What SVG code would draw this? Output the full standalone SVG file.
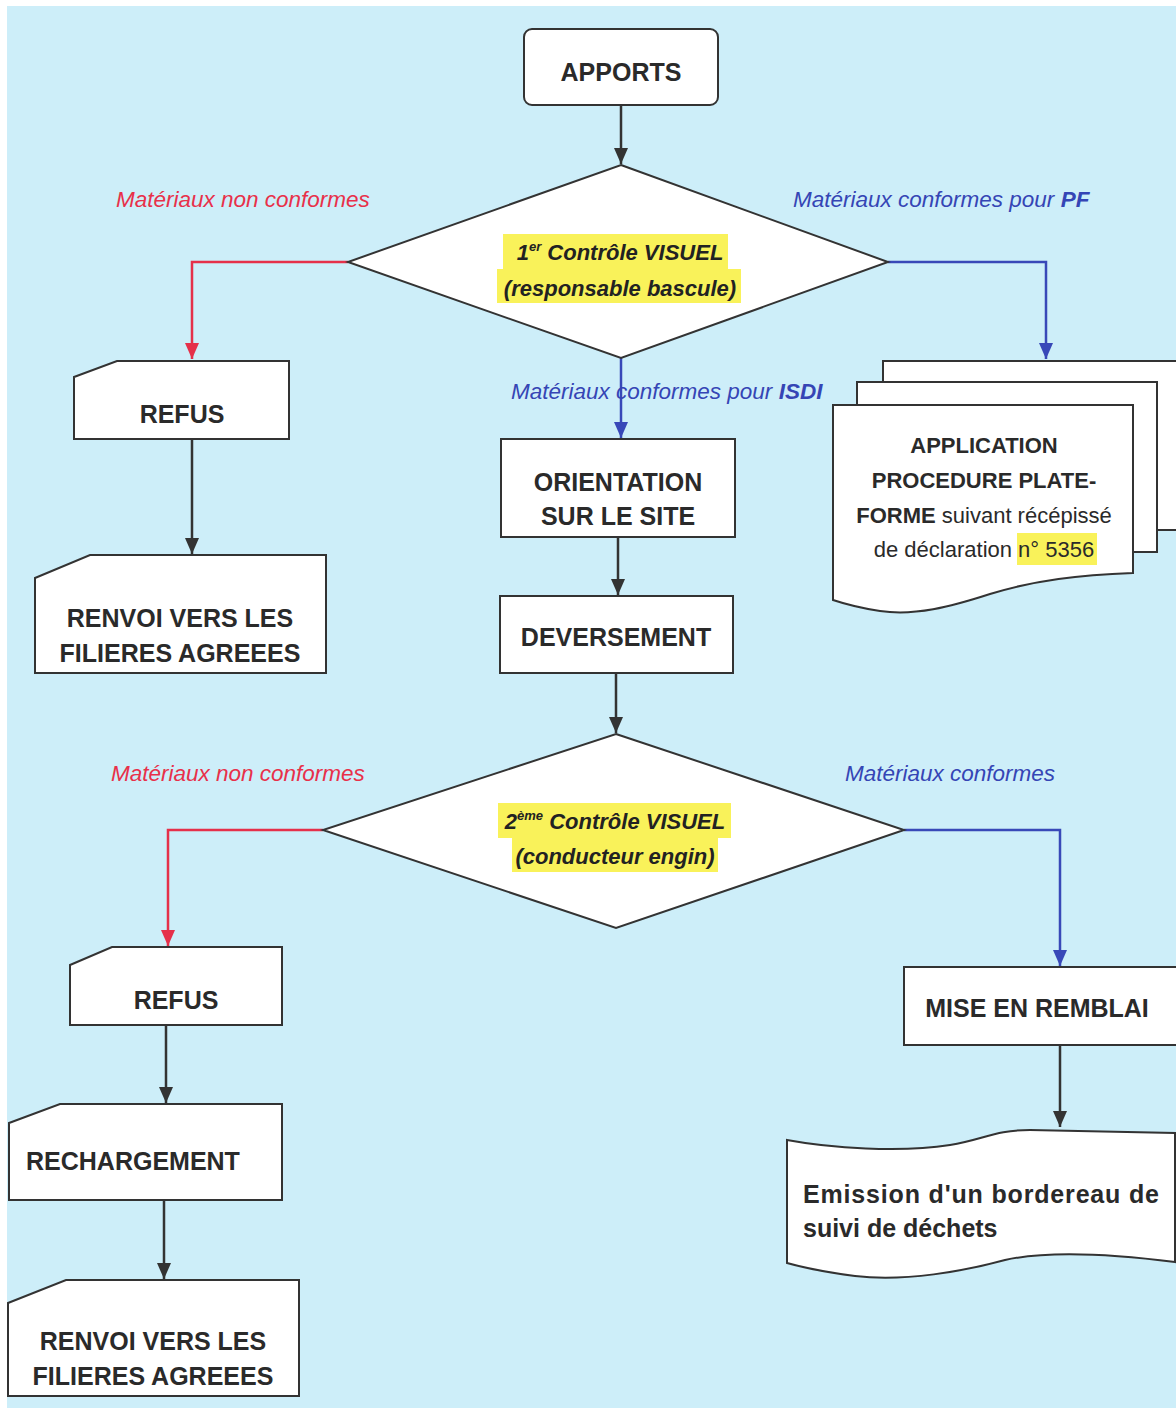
<svg xmlns="http://www.w3.org/2000/svg" width="1176" height="1408" viewBox="0 0 1176 1408">
<style>
.box{fill:#ffffff;stroke:#333333;stroke-width:2}
.t{font-family:"Liberation Sans",Arial,sans-serif;font-weight:bold;font-size:25px;fill:#2a2a2a;text-anchor:middle}
.s{text-anchor:start}
.d{font-family:"Liberation Sans",Arial,sans-serif;font-weight:bold;font-style:italic;font-size:22px;fill:#222;text-anchor:middle}
.p{font-family:"Liberation Sans",Arial,sans-serif;font-size:22px;fill:#2a2a2a;text-anchor:middle}
.lr{font-family:"Liberation Sans",Arial,sans-serif;font-style:italic;font-size:22.5px;fill:#e8304a}
.lb{font-family:"Liberation Sans",Arial,sans-serif;font-style:italic;font-size:22.5px;fill:#3545b5}
.ck{fill:none;stroke:#333333;stroke-width:2.5}
.cr{fill:none;stroke:#e5304a;stroke-width:2.5}
.cb{fill:none;stroke:#3848b8;stroke-width:2.5}
.hl{fill:#f9f25a}
</style>
<defs>
<marker id="ak" viewBox="0 0 16 14" refX="16" refY="7" markerWidth="16" markerHeight="14" orient="auto" markerUnits="userSpaceOnUse"><path d="M0,0 L16,7 L0,14 Z" fill="#333333"/></marker>
<marker id="ar" viewBox="0 0 16 14" refX="16" refY="7" markerWidth="16" markerHeight="14" orient="auto" markerUnits="userSpaceOnUse"><path d="M0,0 L16,7 L0,14 Z" fill="#e5304a"/></marker>
<marker id="ab" viewBox="0 0 16 14" refX="16" refY="7" markerWidth="16" markerHeight="14" orient="auto" markerUnits="userSpaceOnUse"><path d="M0,0 L16,7 L0,14 Z" fill="#3848b8"/></marker>
</defs>
<rect x="0" y="0" width="1176" height="1408" fill="#ffffff"/>
<rect x="7" y="6" width="1169" height="1402" fill="#cdeef9"/>

<g id="connectors">
<path class="ck" d="M621,105 L621,164" marker-end="url(#ak)"/>
<path class="cr" d="M348,262 L192,262 L192,359" marker-end="url(#ar)"/>
<path class="cb" d="M888,262 L1046,262 L1046,359" marker-end="url(#ab)"/>
<path class="cb" d="M621,358 L621,438" marker-end="url(#ab)"/>
<path class="ck" d="M192,439 L192,554" marker-end="url(#ak)"/>
<path class="ck" d="M618,537 L618,595" marker-end="url(#ak)"/>
<path class="ck" d="M616,673 L616,733" marker-end="url(#ak)"/>
<path class="cr" d="M323,830 L168,830 L168,946" marker-end="url(#ar)"/>
<path class="cb" d="M904,830 L1060,830 L1060,966" marker-end="url(#ab)"/>
<path class="ck" d="M166,1025 L166,1103" marker-end="url(#ak)"/>
<path class="ck" d="M164,1200 L164,1279" marker-end="url(#ak)"/>
<path class="ck" d="M1060,1045 L1060,1127" marker-end="url(#ak)"/>
<text class="lr" x="116" y="207">Matériaux non conformes</text>
<text class="lb" x="793" y="207">Matériaux conformes pour <tspan font-weight="bold">PF</tspan></text>
<text class="lb" x="511" y="399">Matériaux conformes pour <tspan font-weight="bold">ISDI</tspan></text>
<text class="lr" x="111" y="781">Matériaux non conformes</text>
<text class="lb" x="845" y="781">Matériaux conformes</text>
</g>

<g id="apports">
<rect class="box" x="524" y="29" width="194" height="76" rx="8"/>
<text class="t" x="621" y="81">APPORTS</text>
</g>

<g id="controle1">
<path class="box" d="M621,165 L888,262 L621,358 L348,262 Z"/>
<rect class="hl" x="503" y="234" width="225" height="35"/>
<rect class="hl" x="497" y="269" width="244" height="34"/>
<text class="d" x="620" y="260">1<tspan font-size="13" dy="-9">er</tspan><tspan dy="9"> Contrôle VISUEL</tspan></text>
<text class="d" x="620" y="296">(responsable bascule)</text>
</g>

<g id="refus1">
<path class="box" d="M74,377 L117,361 L289,361 L289,439 L74,439 Z"/>
<text class="t" x="182" y="423">REFUS</text>
</g>

<g id="renvoi1">
<path class="box" d="M35,578 L90,555 L326,555 L326,673 L35,673 Z"/>
<text class="t" x="180" y="627">RENVOI VERS LES</text>
<text class="t" x="180" y="662">FILIERES AGREEES</text>
</g>

<g id="application">
<rect class="box" x="883" y="361" width="320" height="169"/>
<rect class="box" x="857" y="382" width="300" height="170"/>
<path class="box" d="M833,405 L1133,405 L1133,573 C1080,575 1035,580 990,594 C950,607 915,616 880,611 C860,608 845,604 833,600 Z"/>
<rect class="hl" x="1017" y="533" width="80" height="32"/>
<text class="p" x="984" y="453" font-weight="bold">APPLICATION</text>
<text class="p" x="984" y="488" font-weight="bold">PROCEDURE PLATE-</text>
<text class="p" x="984" y="523"><tspan font-weight="bold">FORME</tspan> suivant récépissé</text>
<text class="p" x="984" y="557">de déclaration n° 5356</text>
</g>

<g id="orientation">
<rect class="box" x="501" y="439" width="234" height="98"/>
<text class="t" x="618" y="491">ORIENTATION</text>
<text class="t" x="618" y="525">SUR LE SITE</text>
</g>

<g id="deversement">
<rect class="box" x="500" y="596" width="233" height="77"/>
<text class="t" x="616" y="646">DEVERSEMENT</text>
</g>

<g id="controle2">
<path class="box" d="M616,734 L904,830 L616,928 L323,830 Z"/>
<rect class="hl" x="498" y="803" width="233" height="35"/>
<rect class="hl" x="512" y="838" width="206" height="34"/>
<text class="d" x="615" y="829">2<tspan font-size="13" dy="-9">ème</tspan><tspan dy="9"> Contrôle VISUEL</tspan></text>
<text class="d" x="615" y="864">(conducteur engin)</text>
</g>

<g id="refus2">
<path class="box" d="M70,965 L112,947 L282,947 L282,1025 L70,1025 Z"/>
<text class="t" x="176" y="1009">REFUS</text>
</g>

<g id="rechargement">
<path class="box" d="M9,1123 L60,1104 L282,1104 L282,1200 L9,1200 Z"/>
<text class="t s" x="26" y="1170">RECHARGEMENT</text>
</g>

<g id="renvoi2">
<path class="box" d="M8,1303 L66,1280 L299,1280 L299,1396 L8,1396 Z"/>
<text class="t" x="153" y="1350">RENVOI VERS LES</text>
<text class="t" x="153" y="1385">FILIERES AGREEES</text>
</g>

<g id="remblai">
<rect class="box" x="904" y="967" width="280" height="78"/>
<text class="t" x="1037" y="1017">MISE EN REMBLAI</text>
</g>

<g id="emission">
<path class="box" d="M787,1140 C830,1148 900,1153 950,1145 C985,1139 995,1130 1030,1130 L1175,1133 L1175,1262 C1120,1255 1050,1250 1005,1260 C965,1271 905,1282 855,1276 C825,1272 805,1268 787,1263 Z"/>
<text class="t s" x="803" y="1203" textLength="356" lengthAdjust="spacing">Emission d'un bordereau de</text>
<text class="t s" x="803" y="1237">suivi de déchets</text>
</g>
</svg>
